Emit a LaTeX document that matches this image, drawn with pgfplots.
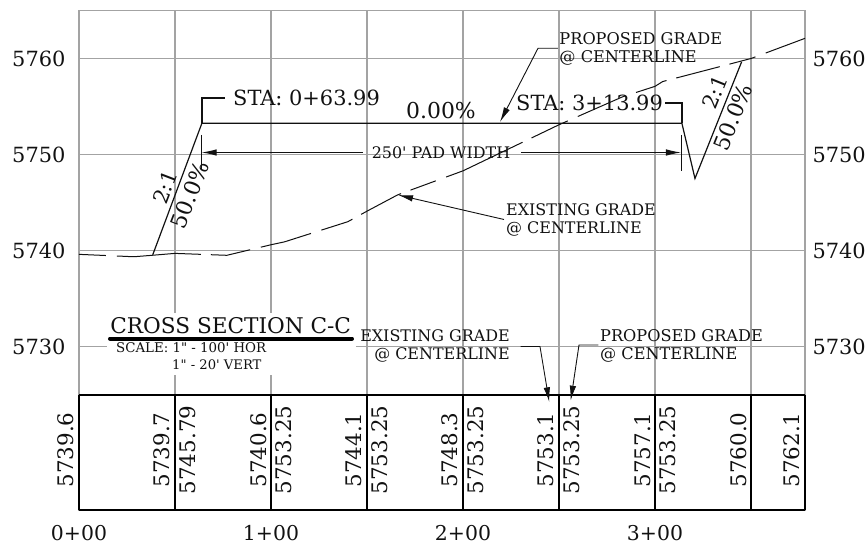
\documentclass[border=0pt]{standalone}
\usepackage{fontspec}
\usepackage{pgfplots}
\pgfplotsset{compat=1.18}
\usetikzlibrary{arrows.meta}
\setmainfont[Ligatures=TeXOff]{DejaVu Serif}
\definecolor{gridg}{HTML}{A3A3A3}
\definecolor{ink}{HTML}{111111}
\newcommand{\fs}[1]{\fontsize{#1}{#1}\selectfont}
\pgfplotstableread{
x y
0 5739.6
28.6 5739.35
38 5739.5
50 5739.7
77 5739.5
100 5740.6
107 5740.9
140 5743.0
150 5744.1
166 5745.8
200 5748.3
250 5753.1
283 5756.0
300 5757.1
304 5757.6
350 5760.0
378.1 5762.1
}\existing
\pgfplotstableread{
x y
38.4 5739.55
63.99 5753.25
313.99 5753.25
320.8 5747.5
345.1 5759.65
}\proposed
\tikzset{lead/.style={ink,line width=0.9bp},
 arr/.style={-{Latex[length=15bp,width=6.5bp]}}}
\begin{document}
\begin{tikzpicture}[x=1bp,y=1bp]
\useasboundingbox (-79bp,-35.7bp) rectangle (788bp,510.3bp);
\begin{axis}[
 at={(0bp,0bp)},anchor=south west,
 scale only axis,width=726bp,height=499.8bp,
 xmin=0,xmax=378.1,ymin=5712.94,ymax=5765,
 clip=false,
 axis line style={gridg,line width=1.9bp},
 grid=major,grid style={gridg,line width=1.6bp},
 major tick length=0pt,
 tick style={draw=none},
 xtick={0,50,100,150,200,250,300,350},
 xticklabels={0+00,,1+00,,2+00,,3+00,},
 ytick={5730,5740,5750,5760},
 /pgf/number format/assume math mode=true,
 /pgf/number format/1000 sep={},
 yticklabel style={font=\fs{21},text=ink,xshift=-10bp},
 xticklabel style={font=\fs{20.5},text=ink,yshift=-12bp},
]
% data table frame
\addplot[black,line width=2bp] coordinates {(0,5725)(378.1,5725)};
\addplot[black,line width=2bp] coordinates {(0,5712.94)(378.1,5712.94)};
\addplot[black,line width=2bp] coordinates {(0,5712.94)(0,5725)};
\addplot[black,line width=2bp] coordinates {(50,5712.94)(50,5725)};
\addplot[black,line width=2bp] coordinates {(100,5712.94)(100,5725)};
\addplot[black,line width=2bp] coordinates {(150,5712.94)(150,5725)};
\addplot[black,line width=2bp] coordinates {(200,5712.94)(200,5725)};
\addplot[black,line width=2bp] coordinates {(250,5712.94)(250,5725)};
\addplot[black,line width=2bp] coordinates {(300,5712.94)(300,5725)};
\addplot[black,line width=2bp] coordinates {(350,5712.94)(350,5725)};
\addplot[black,line width=2bp] coordinates {(378.1,5712.94)(378.1,5725)};
% grades
\addplot[ink,line width=1bp,dash pattern=on 27bp off 11bp on 84bp off 10bp on 40bp off 11bp on 52bp off 11bp on 33bp off 10bp on 45bp off 10bp] table[x=x,y=y] {\existing};
\addplot[ink,line width=1.2bp] table[x=x,y=y] {\proposed};
% station leaders
\addplot[ink,line width=2.2bp] coordinates {(63.99,5753.25)(63.99,5755.9)(76,5755.9)};
\addplot[ink,line width=2.2bp] coordinates {(313.99,5753.25)(313.99,5755.4)(305.4,5755.4)};
\end{axis}
\begin{axis}[
 at={(0bp,0bp)},anchor=south west,
 scale only axis,width=726bp,height=499.8bp,
 xmin=0,xmax=378.1,ymin=5712.94,ymax=5765,
 axis x line=none,axis y line*=right,
 axis line style={draw=none},
 major tick length=0pt,tick style={draw=none},
 xtick=\empty,
 ytick={5730,5740,5750,5760},
 /pgf/number format/assume math mode=true,
 /pgf/number format/1000 sep={},
 yticklabel style={font=\fs{21},text=ink,xshift=4bp},
]
\addplot[draw=none] coordinates {(0,5730)(378,5760)};
\end{axis}
\begin{scope}[shift={(-79bp,510.3bp)},y=-1bp,x=1bp,text=ink]
% white patch behind title
\fill[white] (107,313) rectangle (356,375);
% table values
\foreach \px/\v in {65.7/5739.6,161.7/5739.7,187.7/5745.79,258.3/5740.6,284/5753.25,354/5744.1,380/5753.25,450/5748.3,475.7/5753.25,546/5753.1,571.7/5753.25,642.3/5757.1,667.7/5753.25,738.3/5760.0,791.7/5762.1}
 \node[rotate=90,inner sep=0pt,font=\fs{21.5}] at (\px,450) {\v};
% main annotations
\node[anchor=west,inner sep=0pt,font=\fs{21}] at (233,98) {STA: 0+63.99};
\node[anchor=west,inner sep=0pt,font=\fs{21}] at (516,103) {STA: 3+13.99};
\node[inner sep=0pt,font=\fs{22}] at (441,111) {0.00\%};
\node[inner sep=0pt,font=\fs{16}] at (441,153) {250' PAD WIDTH};
\draw[lead,arr] (363,152.5) -- (201.7,152.5);
\draw[lead,arr] (521,152.5) -- (681,152.5);
\draw[lead] (201.7,135) -- (201.7,170);
\draw[lead] (681.7,135) -- (681.7,171);
% slopes
\node[rotate=69,inner sep=0pt,font=\fs{21}] at (165,187) {2:1};
\node[rotate=69,inner sep=0pt,font=\fs{22}] at (190,195) {50.0\%};
\node[rotate=68,inner sep=0pt,font=\fs{21}] at (715,92) {2:1};
\node[rotate=68,inner sep=0pt,font=\fs{22}] at (733,117) {50.0\%};
% callouts
\node[anchor=west,inner sep=0pt,font=\fs{16.2}] at (559.3,38.3) {PROPOSED GRADE};
\node[anchor=west,inner sep=0pt,font=\fs{16.2}] at (559.3,58.3) {@ CENTERLINE};
\draw[lead,arr] (558,48.3) -- (538,48.3) -- (500,122);
\node[anchor=west,inner sep=0pt,font=\fs{16}] at (506,209.3) {EXISTING GRADE};
\node[anchor=west,inner sep=0pt,font=\fs{16}] at (506,229.3) {@ CENTERLINE};
\draw[lead,arr] (504,219.5) -- (398,195);
\node[anchor=east,inner sep=0pt,font=\fs{16}] at (510,335.7) {EXISTING GRADE};
\node[anchor=east,inner sep=0pt,font=\fs{16}] at (510,355) {@ CENTERLINE};
\draw[lead,arr] (520.7,346.5) -- (540,346.5) -- (549.3,402.3);
\node[anchor=west,inner sep=0pt,font=\fs{16.2}] at (600,335.7) {PROPOSED GRADE};
\node[anchor=west,inner sep=0pt,font=\fs{16.2}] at (600,355) {@ CENTERLINE};
\draw[lead,arr] (598.3,345) -- (579,345) -- (570.7,400.7);
% title
\node[inner sep=0pt,font=\fs{21.7}] at (230.7,325.7) {CROSS SECTION C-C};
\draw[black,line width=4bp,line cap=round] (110,338.7) -- (352,338.7);
\node[anchor=west,inner sep=0pt,font=\fs{13.4}] at (116,347.7) {SCALE: 1" - 100' HOR};
\node[anchor=west,inner sep=0pt,font=\fs{13.2}] at (172,364.3) {1" - 20' VERT};
\end{scope}
\end{tikzpicture}
\end{document}
